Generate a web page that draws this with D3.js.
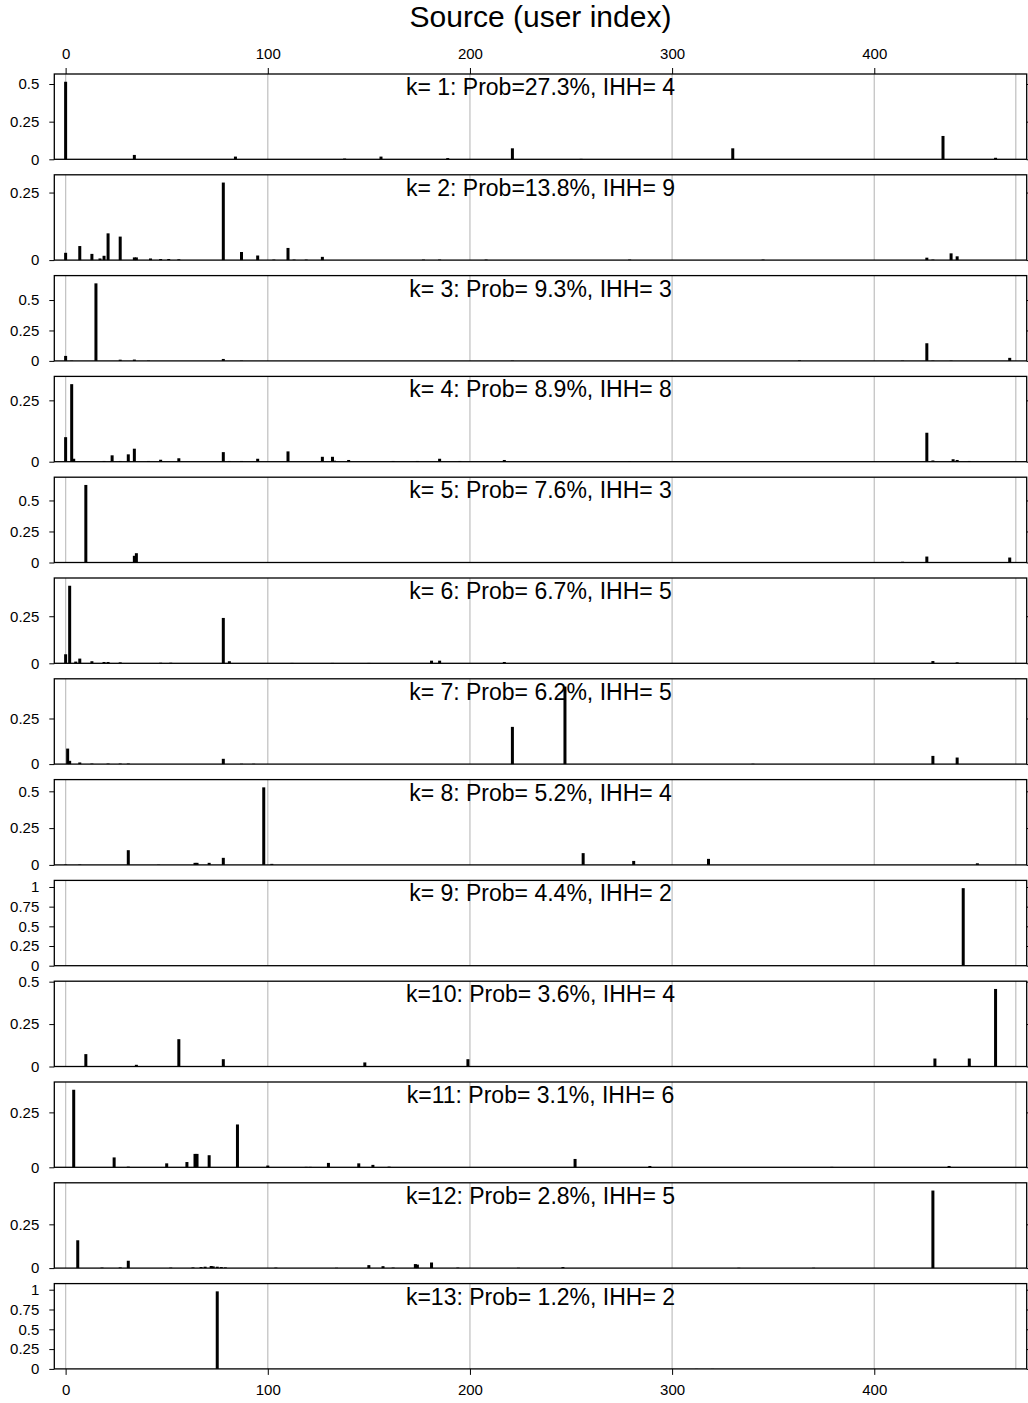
<!DOCTYPE html>
<html>
<head>
<meta charset="utf-8">
<script src="https://cdn.jsdelivr.net/npm/d3@7"></script>
<style>
  body { margin: 0; background: #fff; }
  svg text { font-family: "Liberation Sans", Arial, Helvetica, sans-serif; }
</style>
</head>
<body>
<div id="chart"></div>
<script>
// component probabilities and IHH per panel
const probs = [27.3, 13.8, 9.3, 8.9, 7.6, 6.7, 6.2, 5.2, 4.4, 3.6, 3.1, 2.8, 1.2];
const ihh = [4, 9, 3, 8, 3, 5, 5, 4, 2, 4, 6, 5, 2];

// [user index, weight] for each component
const comp1 = [[0,0.515],[34,0.029],[84,0.018],[138,0.005],[156,0.018],[189,0.008],[221,0.073],[255,0.003],[330,0.073],[434,0.155],[460,0.01]];
const comp2 = [[0,0.027],[7,0.052],[13,0.023],[17,0.006],[19,0.016],[21,0.099],[27,0.087],[34,0.01],[35,0.01],[42,0.006],[47,0.004],[51,0.004],[56,0.003],[78,0.287],[87,0.03],[95,0.017],[103,0.002],[110,0.045],[113,0.002],[119,0.002],[127,0.012],[177,0.002],[185,0.002],[208,0.002],[279,0.002],[345,0.002],[426,0.009],[429,0.002],[438,0.025],[441,0.014]];
const comp3 = [[0,0.041],[3,0.003],[15,0.637],[27,0.01],[34,0.011],[41,0.003],[78,0.016],[87,0.003],[221,0.003],[363,0.005],[414,0.003],[426,0.145],[429,0.003],[438,0.003],[467,0.025]];
const comp4 = [[0,0.1],[3,0.316],[4,0.012],[19,0.003],[23,0.026],[27,0.003],[31,0.03],[34,0.053],[41,0.003],[47,0.008],[56,0.014],[78,0.039],[81,0.003],[87,0.003],[95,0.012],[110,0.042],[127,0.02],[132,0.02],[133,0.004],[140,0.007],[162,0.003],[174,0.003],[185,0.012],[195,0.003],[217,0.007],[279,0.002],[426,0.118],[429,0.005],[439,0.01],[441,0.007],[447,0.003]];
const comp5 = [[0,0.003],[10,0.625],[34,0.054],[35,0.075],[132,0.003],[138,0.003],[156,0.004],[188,0.003],[363,0.003],[414,0.006],[426,0.048],[467,0.04]];
const comp6 = [[0,0.048],[2,0.412],[5,0.009],[7,0.025],[13,0.011],[19,0.007],[21,0.007],[27,0.005],[47,0.003],[52,0.003],[78,0.241],[81,0.011],[112,0.002],[132,0.002],[150,0.002],[181,0.014],[185,0.014],[217,0.007],[429,0.012],[441,0.005]];
const comp7 = [[1,0.085],[2,0.018],[7,0.009],[13,0.003],[21,0.003],[27,0.003],[31,0.003],[78,0.029],[87,0.002],[93,0.002],[221,0.204],[247,0.425],[340,0.002],[429,0.045],[441,0.036]];
const comp8 = [[0,0.003],[7,0.003],[31,0.1],[46,0.002],[64,0.014],[65,0.014],[71,0.014],[78,0.048],[98,0.527],[102,0.007],[256,0.08],[281,0.027],[318,0.041],[451,0.011]];
const comp9 = [[444,0.985]];
const comp10 = [[10,0.073],[35,0.01],[56,0.161],[58,0.003],[78,0.043],[148,0.024],[159,0.002],[179,0.002],[199,0.043],[221,0.002],[230,0.002],[251,0.002],[430,0.047],[447,0.047],[460,0.457]];
const comp11 = [[4,0.353],[24,0.045],[31,0.003],[50,0.018],[60,0.024],[64,0.061],[65,0.061],[71,0.055],[85,0.195],[100,0.008],[119,0.002],[121,0.002],[130,0.02],[145,0.018],[152,0.011],[160,0.003],[252,0.038],[289,0.006],[379,0.002],[437,0.006]];
const comp12 = [[6,0.159],[18,0.003],[27,0.004],[31,0.042],[52,0.003],[63,0.004],[67,0.006],[69,0.008],[72,0.012],[73,0.01],[75,0.008],[77,0.006],[79,0.004],[104,0.003],[134,0.002],[150,0.017],[157,0.011],[162,0.003],[173,0.023],[174,0.02],[181,0.032],[194,0.003],[224,0.002],[246,0.006],[333,0.002],[370,0.002],[429,0.443]];
const comp13 = [[75,0.979],[312,0.002],[320,0.002]];

const components = [comp1, comp2, comp3, comp4, comp5, comp6, comp7, comp8, comp9, comp10, comp11, comp12, comp13];

const xTicks = [0, 100, 200, 300, 400];
const xGrid = [0, 100, 200, 300, 400, 470];
const xDomain = [-5.6, 475.4];

const W = 1028, H = 1403;
const plotLeft = 54.3, plotRight = 1026.7;
const firstTop = 74, panelStep = 100.8, panelH = 85.3;
const barW = 3;

const svg = d3.select("#chart")
  .append("svg")
  .attr("width", W)
  .attr("height", H);

const x = d3.scaleLinear()
  .domain(xDomain)
  .range([plotLeft, plotRight]);

svg.append("text")
  .attr("x", (plotLeft + plotRight) / 2)
  .attr("y", 27)
  .attr("text-anchor", "middle")
  .style("font-size", "30px")
  .text("Source (user index)");

const fmt = d => String(d);

components.forEach((data, i) => {
  const top = firstTop + i * panelStep;
  const g = svg.append("g").attr("transform", `translate(0,${top})`);

  const ymax = d3.max(data, d => d[1]) * 1.1;
  const y = d3.scaleLinear().domain([0, ymax]).range([panelH, 0]);
  const yTicks = d3.range(0, ymax + 1e-9, 0.25);

  // grid lines
  g.selectAll(".grid")
    .data(xGrid)
    .enter().append("line")
    .attr("x1", d => x(d)).attr("x2", d => x(d))
    .attr("y1", 0).attr("y2", panelH)
    .attr("stroke", "#c4c4c4")
    .attr("stroke-width", 1.3);

  // bars
  g.selectAll(".bar")
    .data(data)
    .enter().append("rect")
    .attr("x", d => x(d[0]) - barW / 2)
    .attr("y", d => y(d[1]))
    .attr("width", barW)
    .attr("height", d => y(0) - y(d[1]))
    .attr("fill", "#000");

  // left axis
  const yl = g.append("g")
    .attr("transform", `translate(${plotLeft},0)`)
    .call(d3.axisLeft(y).tickValues(yTicks).tickFormat(fmt).tickSize(5).tickPadding(10));
  yl.select(".domain").remove();
  yl.selectAll("text").style("font-size", "15px");

  // right axis, ticks only
  const yr = g.append("g")
    .attr("transform", `translate(${plotRight},0)`)
    .call(d3.axisRight(y).tickValues(yTicks).tickFormat("").tickSize(5));
  yr.select(".domain").remove();

  // frame
  g.append("rect")
    .attr("x", plotLeft).attr("y", 0)
    .attr("width", plotRight - plotLeft).attr("height", panelH)
    .attr("fill", "none")
    .attr("stroke", "#000")
    .attr("stroke-width", 1.3);

  if (i === 0) {
    const xa = g.append("g")
      .call(d3.axisTop(x).tickValues(xTicks).tickFormat(fmt).tickSize(6).tickPadding(9));
    xa.select(".domain").remove();
    xa.selectAll("text").style("font-size", "15px");
  }
  if (i === components.length - 1) {
    const xb = g.append("g")
      .attr("transform", `translate(0,${panelH})`)
      .call(d3.axisBottom(x).tickValues(xTicks).tickFormat(fmt).tickSize(6).tickPadding(9));
    xb.select(".domain").remove();
    xb.selectAll("text").style("font-size", "15px");
  }

  const label = `k=${String(i + 1).padStart(2, " ")}: Prob=${probs[i].toFixed(1).padStart(4, " ")}%, IHH=${String(ihh[i]).padStart(2, " ")}`;
  g.append("text")
    .attr("x", (plotLeft + plotRight) / 2)
    .attr("y", 21)
    .attr("text-anchor", "middle")
    .style("font-size", "23px")
    .style("white-space", "pre")
    .text(label);
});
</script>
</body>
</html>
